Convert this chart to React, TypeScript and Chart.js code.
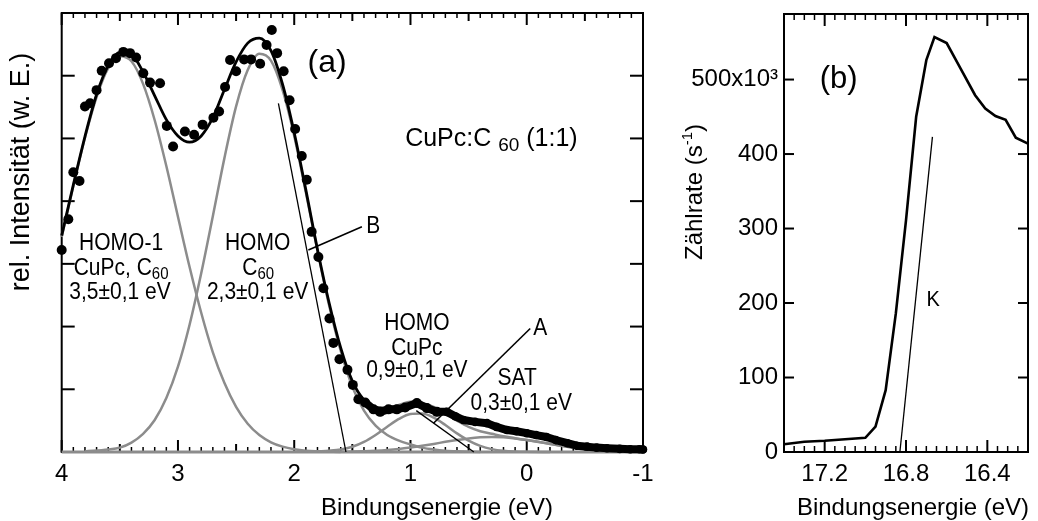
import React, { useEffect, useRef } from 'react';
import { Chart, registerables } from 'chart.js';
Chart.register(...registerables);

const FONT = "'Liberation Sans', Arial, Helvetica, sans-serif";
const GRAY = '#8c8c8c';

// ---------- Panel (a): UPS spectrum CuPc:C60 ----------
const tickLabelsA = [4, 3, 2, 1, 0, -1];

const measE = [4.00, 3.943, 3.90, 3.847, 3.80, 3.756, 3.70, 3.656, 3.593, 3.533, 3.47, 3.412, 3.36, 3.298, 3.24, 3.154, 3.096, 3.042, 2.94, 2.861, 2.788, 2.695, 2.646, 2.595, 2.552, 2.50, 2.431, 2.371, 2.293, 2.238, 2.193, 2.147, 2.091, 2.04, 1.992, 1.935, 1.892, 1.85, 1.792, 1.749, 1.697, 1.663, 1.611, 1.542, 1.496, 1.448, 1.39, 1.318, 1.261, 1.189, 1.117, 1.046, 0.945, 0.859, 0.773];
const measV = [3.22, 3.71, 4.46, 4.32, 5.51, 5.56, 5.77, 6.08, 6.20, 6.28, 6.38, 6.36, 6.29, 6.04, 5.89, 5.88, 5.20, 4.87, 5.11, 5.06, 5.22, 5.33, 5.43, 5.82, 6.25, 6.07, 6.26, 6.26, 6.19, 6.49, 6.73, 6.36, 6.07, 5.61, 5.15, 4.72, 4.34, 3.51, 3.11, 2.61, 2.13, 1.74, 1.48, 1.31, 1.07, 0.84, 0.79, 0.68, 0.64, 0.68, 0.68, 0.71, 0.78, 0.70, 0.64];

const tailE = [1.39, 1.318, 1.261, 1.189, 1.117, 1.046, 0.945, 0.859, 0.773, 0.687, 0.615, 0.544, 0.443, 0.342, 0.26, 0.17, 0.09, 0.0, -0.08, -0.17, -0.25, -0.35, -0.43, -0.52, -0.60, -0.69, -0.80, -0.89, -0.97, -1.0];
const tailV = [0.79, 0.68, 0.64, 0.68, 0.68, 0.71, 0.78, 0.70, 0.64, 0.64, 0.57, 0.51, 0.48, 0.46, 0.40, 0.35, 0.33, 0.30, 0.27, 0.24, 0.19, 0.14, 0.10, 0.085, 0.07, 0.06, 0.05, 0.043, 0.043, 0.04];

const fitE = [4.0, 3.9, 3.8, 3.7, 3.6, 3.5, 3.4, 3.3, 3.2, 3.1, 3.0, 2.9, 2.8, 2.7, 2.6, 2.5, 2.4, 2.3, 2.2, 2.1, 2.0, 1.9, 1.8, 1.7, 1.6, 1.5, 1.4, 1.3, 1.2];
const fitV = [3.45, 4.26, 5.03, 5.70, 6.16, 6.37, 6.34, 6.06, 5.68, 5.30, 5.04, 4.94, 5.04, 5.33, 5.78, 6.22, 6.52, 6.60, 6.40, 5.86, 5.09, 4.18, 3.23, 2.38, 1.66, 1.13, 0.83, 0.71, 0.70];

const fitTailE = [1.2, 1.1, 1.0, 0.9, 0.8, 0.7, 0.6, 0.5, 0.4, 0.3, 0.2, 0.1, 0.0, -0.2, -0.4, -0.6, -0.8, -1.0];
const fitTailV = [0.70, 0.75, 0.80, 0.78, 0.72, 0.61, 0.50, 0.40, 0.33, 0.29, 0.25, 0.22, 0.19, 0.13, 0.07, 0.03, 0.01, 0.005];

const homo1E = [4.0, 3.9, 3.8, 3.7, 3.6, 3.5, 3.4, 3.3, 3.2, 3.1, 3.0, 2.9, 2.8, 2.7, 2.6, 2.5, 2.4, 2.3, 2.2, 2.1, 2.0, 1.9, 1.8, 1.6];
const homo1V = [3.43, 4.24, 5.01, 5.66, 6.12, 6.31, 6.23, 5.87, 5.29, 4.56, 3.75, 2.95, 2.22, 1.59, 1.10, 0.72, 0.45, 0.27, 0.155, 0.085, 0.044, 0.02, 0.01, 0];

const homoC60E = [3.8, 3.6, 3.5, 3.4, 3.3, 3.2, 3.1, 3.0, 2.9, 2.8, 2.7, 2.6, 2.5, 2.4, 2.3, 2.2, 2.1, 2.0, 1.9, 1.8, 1.7, 1.6, 1.5, 1.4, 1.3, 1.2, 1.1, 1.0, 0.9, 0.8, 0.7, 0.6, 0.4];
const homoC60V = [0.01, 0.04, 0.07, 0.15, 0.29, 0.51, 0.86, 1.36, 2.03, 2.85, 3.76, 4.69, 5.51, 6.09, 6.35, 6.24, 5.77, 5.04, 4.14, 3.21, 2.34, 1.61, 1.04, 0.66, 0.42, 0.27, 0.18, 0.12, 0.07, 0.04, 0.02, 0.01, 0];

const homoCuPcE = [1.8, 1.7, 1.6, 1.5, 1.4, 1.3, 1.2, 1.1, 1.0, 0.9, 0.8, 0.7, 0.6, 0.5, 0.4, 0.3, 0.2, 0.1, 0.0, -0.2];
const homoCuPcV = [0.01, 0.02, 0.039, 0.084, 0.161, 0.272, 0.403, 0.527, 0.606, 0.614, 0.547, 0.43, 0.297, 0.181, 0.097, 0.046, 0.019, 0.007, 0.002, 0];

const satE = [1.6, 1.5, 1.4, 1.3, 1.2, 1.1, 1.0, 0.9, 0.8, 0.7, 0.6, 0.5, 0.4, 0.3, 0.2, 0.1, 0.0, -0.1, -0.2, -0.3, -0.4, -0.5, -0.6, -0.7, -0.8, -0.9, -1.0];
const satV = [0.004, 0.007, 0.012, 0.02, 0.032, 0.049, 0.072, 0.099, 0.129, 0.162, 0.192, 0.217, 0.234, 0.24, 0.234, 0.217, 0.192, 0.162, 0.129, 0.099, 0.072, 0.049, 0.032, 0.02, 0.012, 0.007, 0.004];

const baseE = [4, -1];
const baseV = [0, 0];

const edgeBE = [2.136, 1.555];
const edgeBV = [5.56, 0];
const edgeAE = [0.95, 0.455];
const edgeAV = [0.66, 0];
const leaderBE = [1.878, 1.418];
const leaderBV = [3.22, 3.59];
const leaderAE = [0.802, -0.03];
const leaderAV = [0.458, 1.97];

// ---------- Panel (b): secondary electron cutoff ----------
const tickLabelsBx = [17.2, 16.8, 16.4];
const tickLabelsBy = [0, 100, 200, 300, 400, 500];
const cutoffE = [17.40, 17.30, 17.20, 17.00, 16.95, 16.90, 16.85, 16.80, 16.75, 16.70, 16.66, 16.60, 16.53, 16.46, 16.41, 16.36, 16.31, 16.26, 16.20];
const cutoffV = [10.5, 13.8, 15, 19, 34, 83, 186, 311, 450, 526, 557, 549, 514, 479, 461, 451, 446, 422, 414];
const kE = [16.83, 16.67];
const kV = [0, 423];

const pts = (xs: number[], ys: number[]) => xs.map((x, i) => ({ x, y: ys[i] }));

function lineDs(xs: number[], ys: number[], color: string, width: number, order: number, smooth: boolean) {
  return {
    data: pts(xs, ys),
    showLine: true,
    borderColor: color,
    backgroundColor: color,
    borderWidth: width,
    pointRadius: 0,
    cubicInterpolationMode: smooth ? 'monotone' : 'default',
    tension: 0,
    order,
    clip: false,
  };
}

// text drawn with an optional vertical stretch (the reference glyphs are slightly tall)
function txt(ctx: CanvasRenderingContext2D, s: string, x: number, y: number, size: number, align: CanvasTextAlign = 'center', stretch = 1) {
  ctx.save();
  ctx.font = `${size}px ${FONT}`;
  ctx.textAlign = align;
  ctx.textBaseline = 'alphabetic';
  ctx.translate(x, y);
  ctx.scale(1, stretch);
  ctx.fillText(s, 0, 0);
  ctx.restore();
}

function parts(ctx: CanvasRenderingContext2D, list: [string, number, number][], x: number, y: number, align: 'left' | 'center', stretch = 1) {
  let total = 0;
  const widths = list.map(([s, size]) => {
    ctx.font = `${size}px ${FONT}`;
    const w = ctx.measureText(s).width;
    total += w;
    return w;
  });
  let cx = align === 'center' ? -total / 2 : 0;
  ctx.save();
  ctx.translate(x, y);
  ctx.scale(1, stretch);
  ctx.textAlign = 'left';
  ctx.textBaseline = 'alphabetic';
  list.forEach(([s, size, dy], i) => {
    ctx.font = `${size}px ${FONT}`;
    ctx.fillText(s, cx, dy);
    cx += widths[i];
  });
  ctx.restore();
}

function seg(ctx: CanvasRenderingContext2D, x1: number, y1: number, x2: number, y2: number) {
  ctx.beginPath();
  ctx.moveTo(x1, y1);
  ctx.lineTo(x2, y2);
  ctx.stroke();
}

const framePluginA = {
  id: 'frameA',
  beforeDatasetsDraw(chart: any) {
    const { ctx, chartArea: a, scales } = chart;
    const sx = scales.x, sy = scales.y;
    ctx.save();
    ctx.strokeStyle = '#000';
    ctx.lineWidth = 2;
    ctx.strokeRect(a.left, a.top, a.right - a.left, a.bottom - a.top);
    for (let i = -10; i <= 40; i++) {
      const px = sx.getPixelForValue(i / 10);
      const len = i % 10 === 0 ? 12 : (i % 5 === 0 ? 8 : 5);
      ctx.lineWidth = i % 5 === 0 ? 2 : 1.5;
      seg(ctx, px, a.bottom, px, a.bottom - len);
      seg(ctx, px, a.top, px, a.top + len);
    }
    ctx.lineWidth = 2;
    for (let j = 1; j <= 6; j++) {
      const py = sy.getPixelForValue(j);
      seg(ctx, a.left, py, a.left + 13, py);
      seg(ctx, a.right, py, a.right - 13, py);
    }
    ctx.restore();
  },
  afterDraw(chart: any) {
    const { ctx, scales } = chart;
    const X = (e: number) => scales.x.getPixelForValue(e);
    const Y = (v: number) => scales.y.getPixelForValue(v);
    ctx.save();
    ctx.fillStyle = '#000';
    const f = 21, off = 8, st = 1.1;
    txt(ctx, 'HOMO-1', X(3.489), Y(3.35) + off, f, 'center', st);
    parts(ctx, [['CuPc, C', f, 0], ['60', 15, 4]], X(3.489), Y(2.95) + off, 'center', st);
    txt(ctx, '3,5±0,1 eV', X(3.498), Y(2.57) + off, f, 'center', st);
    txt(ctx, 'HOMO', X(2.315), Y(3.35) + off, f, 'center', st);
    parts(ctx, [['C', f, 0], ['60', 15, 4]], X(2.31), Y(2.95) + off, 'center', st);
    txt(ctx, '2,3±0,1 eV', X(2.315), Y(2.57) + off, f, 'center', st);
    txt(ctx, 'B', X(1.321), Y(3.62) + off, f, 'center', st);
    txt(ctx, 'HOMO', X(0.945), Y(2.08) + off, f, 'center', st);
    txt(ctx, 'CuPc', X(0.945), Y(1.68) + off, f, 'center', st);
    txt(ctx, '0,9±0,1 eV', X(0.945), Y(1.32) + off, f, 'center', st);
    txt(ctx, 'SAT', X(0.082), Y(1.20) + off, f, 'center', st);
    txt(ctx, '0,3±0,1 eV', X(0.047), Y(0.80) + off, f, 'center', st);
    txt(ctx, 'A', X(-0.117), Y(2.0) + off, f, 'center', st);
    txt(ctx, '(a)', X(1.717), Y(6.2) + 8.5, 32);
    parts(ctx, [['CuPc:C ', 25, 0], ['60', 19, 5], [' (1:1)', 25, 0]], X(1.046), Y(5.02) + 9, 'left');
    txt(ctx, 'Bindungsenergie (eV)', 437, 515, 24);
    ctx.translate(19, 172);
    ctx.rotate(-Math.PI / 2);
    txt(ctx, 'rel. Intensität (w. E.)', 0, 9.5, 27);
    ctx.restore();
  },
};

const framePluginB = {
  id: 'frameB',
  beforeDatasetsDraw(chart: any) {
    const { ctx, chartArea: a, scales } = chart;
    const sx = scales.x, sy = scales.y;
    ctx.save();
    ctx.strokeStyle = '#000';
    ctx.lineWidth = 2;
    ctx.strokeRect(a.left, a.top, a.right - a.left, a.bottom - a.top);
    for (let i = 324; i <= 348; i++) {
      const px = sx.getPixelForValue(i / 20);
      const major = i % 8 === 0;
      const len = major ? 12 : 6;
      ctx.lineWidth = major ? 2 : 1.5;
      seg(ctx, px, a.bottom, px, a.bottom - len);
      seg(ctx, px, a.top, px, a.top + len);
    }
    ctx.lineWidth = 2;
    for (let j = 1; j <= 5; j++) {
      const py = sy.getPixelForValue(j * 100);
      seg(ctx, a.left, py, a.left + 10, py);
      seg(ctx, a.right, py, a.right - 10, py);
    }
    ctx.restore();
  },
  afterDraw(chart: any) {
    const { ctx, scales } = chart;
    const X = (e: number) => scales.x.getPixelForValue(e);
    const Y = (v: number) => scales.y.getPixelForValue(v);
    ctx.save();
    ctx.fillStyle = '#000';
    txt(ctx, '(b)', X(17.131), Y(499) + 8, 31);
    txt(ctx, 'K', X(16.666), Y(206) + 7.5, 20, 'center', 1.1);
    txt(ctx, 'Bindungsenergie (eV)', 253, 515, 24);
    ctx.translate(33, 192);
    ctx.rotate(-Math.PI / 2);
    parts(ctx, [['Zählrate (s', 24, 0], ['-1', 15, -10], [')', 24, 0]], 0, 8.6, 'center');
    ctx.restore();
  },
};

function buildA(): any {
  const G = 2.5;
  return {
    type: 'scatter',
    data: {
      datasets: [
        { data: pts(measE, measV), pointRadius: 5, pointBackgroundColor: '#000', pointBorderWidth: 0, showLine: false, order: 0, clip: false },
        { data: pts(tailE, tailV), showLine: true, borderColor: '#000', borderWidth: 8, borderJoinStyle: 'round', borderCapStyle: 'round', pointRadius: 4.3, pointBackgroundColor: '#000', pointBorderWidth: 0, tension: 0, order: 1, clip: false },
        lineDs(fitE, fitV, '#000', 2.8, 2, true),
        lineDs(edgeBE, edgeBV, '#000', 1.3, 3, false),
        lineDs(edgeAE, edgeAV, '#000', 1.3, 3, false),
        lineDs(leaderBE, leaderBV, '#000', 1.6, 3, false),
        lineDs(leaderAE, leaderAV, '#000', 1.6, 3, false),
        lineDs(fitTailE, fitTailV, GRAY, G, 4, true),
        lineDs(homo1E, homo1V, GRAY, G, 5, true),
        lineDs(homoC60E, homoC60V, GRAY, G, 5, true),
        lineDs(homoCuPcE, homoCuPcV, GRAY, G, 5, true),
        lineDs(satE, satV, GRAY, G, 5, true),
        lineDs(baseE, baseV, GRAY, 3, 6, false),
      ],
    },
    options: {
      responsive: false,
      animation: false,
      events: [],
      layout: { padding: { top: 13, right: 17, bottom: 0, left: 61.7 } },
      plugins: { legend: { display: false }, tooltip: { enabled: false } },
      scales: {
        x: {
          type: 'linear', min: -1, max: 4, reverse: true,
          grid: { display: false, drawTicks: false },
          border: { display: false },
          afterBuildTicks: (s: any) => { s.ticks = tickLabelsA.map((v) => ({ value: v })); },
          afterFit: (s: any) => { s.height = 69; s.paddingLeft = 0; s.paddingRight = 0; },
          ticks: { color: '#000', font: { family: FONT, size: 24 }, padding: 8, maxRotation: 0, autoSkip: false, callback: (v: any) => String(v) },
        },
        y: { type: 'linear', min: 0, max: 7, display: false },
      },
    },
    plugins: [framePluginA],
  };
}

function buildB(): any {
  return {
    type: 'scatter',
    data: {
      datasets: [
        lineDs(cutoffE, cutoffV, '#000', 2.6, 0, false),
        lineDs(kE, kV, '#000', 1.3, 1, false),
      ],
    },
    options: {
      responsive: false,
      animation: false,
      events: [],
      layout: { padding: { top: 14, right: 10, bottom: 0, left: 0 } },
      plugins: { legend: { display: false }, tooltip: { enabled: false } },
      scales: {
        x: {
          type: 'linear', min: 16.2, max: 17.4, reverse: true,
          grid: { display: false, drawTicks: false },
          border: { display: false },
          afterBuildTicks: (s: any) => { s.ticks = tickLabelsBx.map((v) => ({ value: v })); },
          afterFit: (s: any) => { s.height = 69; s.paddingLeft = 0; s.paddingRight = 0; },
          ticks: { color: '#000', font: { family: FONT, size: 24 }, padding: 8, maxRotation: 0, autoSkip: false, callback: (v: any) => Number(v).toFixed(1) },
        },
        y: {
          type: 'linear', min: 0, max: 588,
          grid: { display: false, drawTicks: false },
          border: { display: false },
          afterBuildTicks: (s: any) => { s.ticks = tickLabelsBy.map((v) => ({ value: v })); },
          afterFit: (s: any) => { s.width = 124; s.paddingTop = 0; s.paddingBottom = 0; },
          ticks: { color: '#000', font: { family: FONT, size: 24 }, padding: 6, autoSkip: false, callback: (v: any) => (Number(v) === 500 ? '500x10³' : String(v)) },
        },
      },
    },
    plugins: [framePluginB],
  };
}

export default function App() {
  const refA = useRef<HTMLCanvasElement>(null);
  const refB = useRef<HTMLCanvasElement>(null);
  useEffect(() => {
    const a = new Chart(refA.current as HTMLCanvasElement, buildA());
    const b = new Chart(refB.current as HTMLCanvasElement, buildB());
    return () => { a.destroy(); b.destroy(); };
  }, []);
  return (
    <div style={{ position: 'absolute', left: 0, top: 0, width: 1038, height: 521, background: '#fff' }}>
      <canvas ref={refA} width={660} height={521} style={{ position: 'absolute', left: 0, top: 0 }} />
      <canvas ref={refB} width={378} height={521} style={{ position: 'absolute', left: 660, top: 0 }} />
    </div>
  );
}
